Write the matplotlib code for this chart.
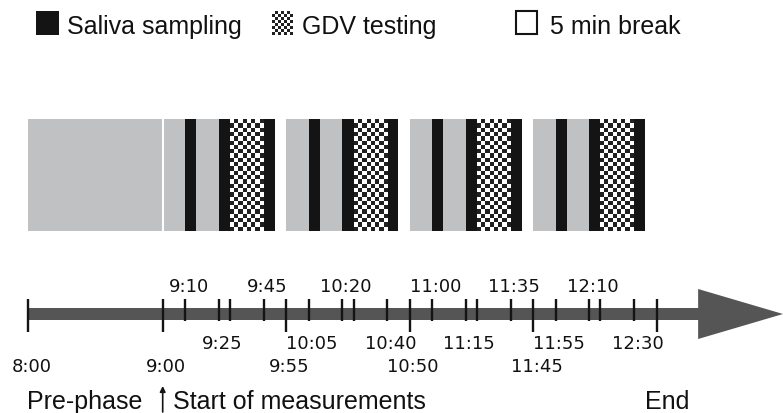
import numpy as np
import matplotlib.pyplot as plt
from matplotlib.patches import Rectangle, Polygon

# timeline in minutes after 8:00
def mins(t):
    h, m = t.split(":")
    return (int(h) - 8) * 60 + int(m)

# protocol
prephase = ("8:00", "9:00")
session_starts = ["9:00", "9:55", "10:50", "11:45"]
# (offset in min, duration in min, kind) inside one 55 min session
session_steps = [(0, 10, "rest"), (10, 5, "saliva"), (15, 10, "rest"),
                 (25, 5, "saliva"), (30, 15, "gdv"), (45, 5, "saliva"),
                 (50, 5, "break")]

tick_times = ["8:00", "9:00", "9:10", "9:25", "9:30", "9:45", "9:55",
              "10:05", "10:20", "10:25", "10:40", "10:50", "11:00",
              "11:15", "11:20", "11:35", "11:45", "11:55", "12:10",
              "12:15", "12:30", "12:40"]
long_ticks = ["8:00", "9:00", "9:55", "10:50", "11:45", "12:40"]

labels_top = ["9:10", "9:45", "10:20", "11:00", "11:35", "12:10"]
labels_mid = ["9:25", "10:05", "10:40", "11:15", "11:55", "12:30"]
labels_low = ["8:00", "9:00", "9:55", "10:50", "11:45"]

GRAY = "#c0c1c3"
BLACK = "#141414"
SHAFT = "#555555"

W, H = 783, 414
px_per_min = 2.245
x0 = 28

fig = plt.figure(figsize=(W / 100, H / 100), dpi=100)
ax = fig.add_axes([0, 0, 1, 1])
ax.set_xlim(-x0 / px_per_min, (W - x0) / px_per_min)
ax.set_ylim(H, 0)
ax.axis("off")

# checker pattern for GDV
def checker(nx, ny):
    return (np.add.outer(np.arange(ny), np.arange(nx)) % 2).astype(float)

top, bottom = 120, 232

# blocks
p0, p1 = mins(prephase[0]), mins(prephase[1])
ax.add_patch(Rectangle((p0, top), p1 - p0, bottom - top, color=GRAY, lw=0))
for s in session_starts:
    t0 = mins(s)
    for off, dur, kind in session_steps:
        a = t0 + off
        if kind == "rest":
            ax.add_patch(Rectangle((a, top), dur, bottom - top, color=GRAY, lw=0))
        elif kind == "saliva":
            ax.add_patch(Rectangle((a, top), dur, bottom - top, color=BLACK, lw=0))
        elif kind == "gdv":
            ax.imshow(checker(8, 26), cmap="gray_r", vmin=0, vmax=1.15,
                      extent=(a, a + dur, bottom, top), aspect="auto",
                      interpolation="nearest", zorder=2)
ax.plot([p1, p1], [top, bottom], color="white", lw=1.5, zorder=3)

# timeline arrow
ty = 315
start = mins(tick_times[0])
head_start = mins(tick_times[-1]) + 18.5
head_end = (W - x0) / px_per_min
ax.add_patch(Polygon([(start, ty - 6), (head_start, ty - 6), (head_start, ty - 25),
                      (head_end, ty), (head_start, ty + 25), (head_start, ty + 6),
                      (start, ty + 6)], closed=True, color=SHAFT, lw=0))

for t in tick_times:
    low = 333 if t in long_ticks else 322
    ax.plot([mins(t), mins(t)], [300, low], color=BLACK, lw=1.7, solid_capstyle="butt")

lab_kw = dict(ha="center", va="baseline", fontsize=13, family="DejaVu Sans",
              color="#111111")
for t in labels_top:
    ax.text(mins(t) + 1.5, 292, t, **lab_kw)
for t in labels_mid:
    ax.text(mins(t) + 1.5, 349, t, **lab_kw)
for t in labels_low:
    ax.text(mins(t) + 1.5, 372, t, **lab_kw)

txt_kw = dict(va="baseline", fontsize=18, family="Liberation Sans", color="#111111")
ax.text(142 / px_per_min - x0 / px_per_min, 409, "Pre-phase", ha="right", **txt_kw)
ax.text(173 / px_per_min - x0 / px_per_min, 409, "Start of measurements", ha="left", **txt_kw)
ax.text(667 / px_per_min - x0 / px_per_min, 409, "End", ha="center", **txt_kw)
ax.annotate("", xy=(mins("9:00"), 387), xytext=(mins("9:00"), 413),
            arrowprops=dict(arrowstyle="-|>", color=BLACK, lw=1.2,
                            mutation_scale=8, shrinkA=0, shrinkB=0))

# legend in pixel coordinates
lax = fig.add_axes([0, 0, 1, 1])
lax.set_xlim(0, W)
lax.set_ylim(H, 0)
lax.axis("off")
lax.add_patch(Rectangle((36, 12), 23, 24, color=BLACK, lw=0))
lax.imshow(checker(7, 8), cmap="gray_r", vmin=0, vmax=1.15,
           extent=(272, 293, 36, 12), aspect="auto", interpolation="nearest")
lax.add_patch(Rectangle((516, 12), 21, 23, facecolor="white", edgecolor=BLACK, lw=1.5))
lax.set_xlim(0, W)
lax.set_ylim(H, 0)
leg_kw = dict(va="baseline", ha="left", fontsize=18, family="Liberation Sans",
              color="#111111")
lax.text(67, 34, "Saliva sampling", **leg_kw)
lax.text(302, 34, "GDV testing", **leg_kw)
lax.text(550, 34, "5 min break", **leg_kw)

fig.savefig("out.png", dpi=100)
